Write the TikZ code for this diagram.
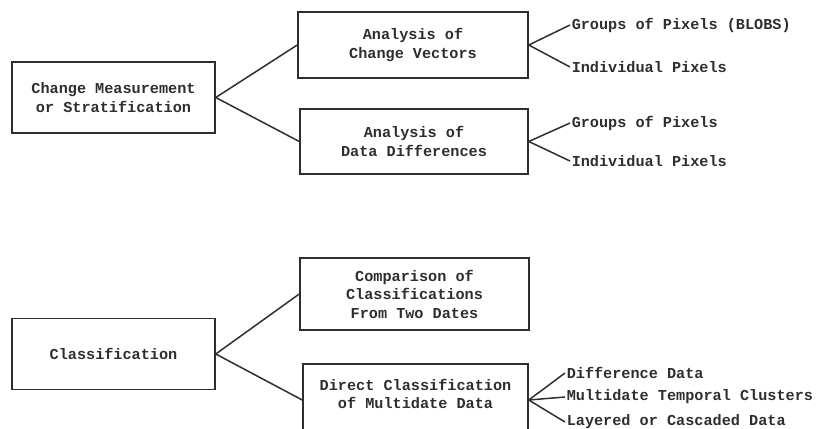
\documentclass[tikz,border=0pt]{standalone}
\usepackage{fontspec}
\setmonofont{Liberation Mono}
\definecolor{ink}{gray}{0.18}

\begin{document}
\begin{tikzpicture}[x=1pt, y=-1pt, line width=1.5pt, draw=ink, text=ink,
  box/.style={draw, align=center, inner sep=0pt,
    font=\ttfamily\bfseries\fontsize{15.2}{18.5}\selectfont},
  leaf/.style={anchor=west, inner xsep=1pt, inner ysep=0pt,
    font=\ttfamily\bfseries\fontsize{15.2}{18.5}\selectfont}]
\useasboundingbox (0,0) rectangle (818,428);
\clip (0,0) rectangle (818,428);
%
\node[box, minimum width=203pt, minimum height=71pt] (cms) at (113.5,97.5) {Change Measurement\\or Stratification};
\node[box, minimum width=230pt, minimum height=66pt] (acv) at (413,45) {Analysis of\\Change Vectors};
\node[box, minimum width=228pt, minimum height=65pt] (add) at (414,141.5) {Analysis of\\Data Differences};
\draw (cms.east)--(acv.west);
\draw (cms.east)--(add.west);
%
\node[leaf] (acvblob) at (570,25) {Groups of Pixels (BLOBS)};
\node[leaf] (acvpix) at (570,67) {Individual Pixels};
\draw (acv.east)--(acvblob.west);
\draw (acv.east)--(acvpix.west);
\node[leaf] (addgrp) at (570,123) {Groups of Pixels};
\node[leaf] (addpix) at (570,161) {Individual Pixels};
\draw (add.east)--(addgrp.west);
\draw (add.east)--(addpix.west);
%
\node[box, minimum width=203pt, minimum height=71pt] (cls) at (113.5,354) {Classification};
\node[box, minimum width=229pt, minimum height=72pt] (cmp) at (414.5,294) {Comparison of\\Classifications\\From Two Dates};
\node[box, minimum width=225pt, minimum height=72pt] (dcm) at (415.5,400) {};
\node[box, draw=none] (dcmtxt) at (415.5,394) {Direct Classification\\of Multidate Data};
\draw (cls.east)--(cmp.west);
\draw (cls.east)--(dcm.west);
%
\node[leaf] (dcmdiff) at (565,373) {Difference Data};
\node[leaf] (dcmclus) at (565,397) {Multidate Temporal Clusters};
\node[leaf] (dcmlay) at (565,422) {Layered or Cascaded Data};
\draw (dcm.east)--(dcmdiff.west);
\draw (dcm.east)--(dcmclus.west);
\draw (dcm.east)--(dcmlay.west);
\end{tikzpicture}
\end{document}
